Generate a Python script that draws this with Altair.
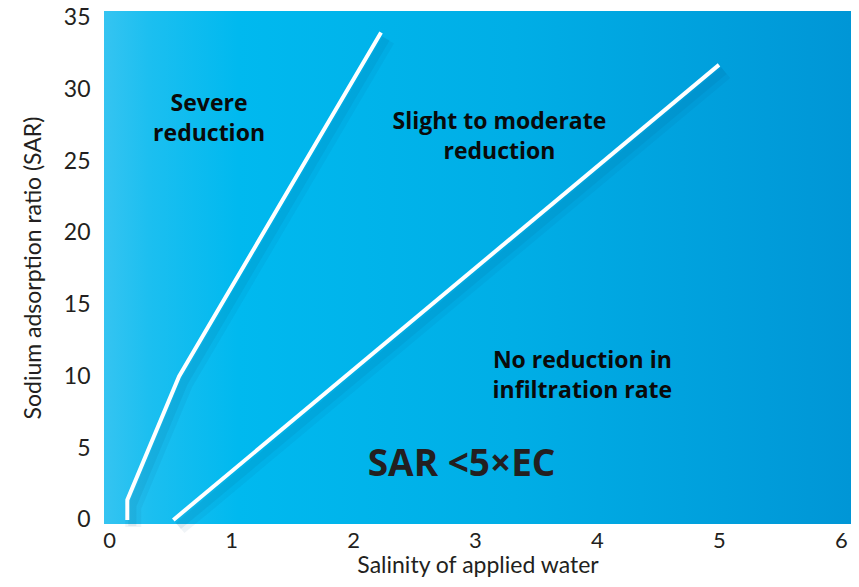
import altair as alt
import pandas as pd

# Boundary lines (EC of applied water, SAR)
severe_x = [0.15, 0.15, 0.574, 2.23]
severe_y = [0.0, 1.4, 10.0, 33.95]
slight_x = [0.527, 5.0]
slight_y = [0.0, 31.7]

# Region labels (y = first text line)
label_text = ["Severe\nreduction", "Slight to moderate\nreduction", "No reduction in\ninfiltration rate"]
label_x = [0.82, 3.20, 3.88]
label_y = [29.0, 27.7, 11.1]

formula_text = ["SAR <5×EC"]
formula_x = [2.89]
formula_y = [3.8]

x_ticks = [0, 1, 2, 3, 4, 5, 6]
y_ticks = [0, 5, 10, 15, 20, 25, 30, 35]

W, H = 747, 513
xs = alt.Scale(domain=[-0.041, 6.082], nice=False, zero=False)
ys = alt.Scale(domain=[-0.28, 35.45], nice=False, zero=False)

lines = pd.DataFrame(
    {"x": severe_x + slight_x,
     "y": severe_y + slight_y,
     "line": ["severe"] * len(severe_x) + ["slight"] * len(slight_x),
     "order": list(range(len(severe_x))) + list(range(len(slight_x)))}
)
labels = pd.DataFrame({"t": label_text, "x": label_x, "y": label_y})
formula = pd.DataFrame({"t": formula_text, "x": formula_x, "y": formula_y})

gradient = alt.Gradient(
    gradient="linear", x1=0, x2=1, y1=0, y2=0,
    stops=[alt.GradientStop(color="#35c4f1", offset=0),
           alt.GradientStop(color="#1cbff0", offset=0.06),
           alt.GradientStop(color="#00b9ef", offset=0.18),
           alt.GradientStop(color="#00aee6", offset=0.55),
           alt.GradientStop(color="#0096d6", offset=1)],
)

bg = alt.Chart(pd.DataFrame({"a": [0]})).mark_rect(color=gradient).encode(
    x=alt.value(0), x2=alt.value(W), y=alt.value(0), y2=alt.value(H)
)

FONT = "Lato"
xaxis = alt.Axis(values=x_ticks, format="d", title="Salinity of applied water", grid=False,
                 domain=False, ticks=False, labelPadding=6, titlePadding=3, labelFontSize=22,
                 titleFontSize=23, labelFont=FONT, titleFont=FONT, labelColor="#231f20",
                 titleColor="#231f20", titleFontWeight="normal", labelFlush=False)
yaxis = alt.Axis(values=y_ticks, format="d", title="Sodium adsorption ratio (SAR)", grid=False,
                 domain=False, ticks=False, labelPadding=14, titlePadding=18, labelFontSize=23,
                 titleFontSize=23, labelFont=FONT, titleFont=FONT, labelColor="#231f20",
                 titleColor="#231f20", titleFontWeight="normal", labelFlush=False)

enc = dict(
    x=alt.X("x:Q", scale=xs, axis=xaxis),
    y=alt.Y("y:Q", scale=ys, axis=yaxis),
    detail="line:N", order="order:Q",
)

shadow1 = alt.Chart(lines).mark_line(
    color="#004a75", strokeWidth=16, opacity=0.06, xOffset=6, yOffset=7
).encode(**enc)
shadow2 = alt.Chart(lines).mark_line(
    color="#004a75", strokeWidth=8, opacity=0.08, xOffset=5, yOffset=6
).encode(**enc)

line = alt.Chart(lines).mark_line(color="white", strokeWidth=4).encode(**enc)

txt = alt.Chart(labels).mark_text(
    font="Open Sans", fontSize=23, fontWeight="bold", color="#0a0a0a",
    align="center", baseline="middle", lineBreak="\n", lineHeight=30
).encode(x=alt.X("x:Q", scale=xs), y=alt.Y("y:Q", scale=ys), text="t:N")

ftxt = alt.Chart(formula).mark_text(
    font="Open Sans", fontSize=37, fontWeight="bold", color="#231f20",
    align="center", baseline="middle"
).encode(x=alt.X("x:Q", scale=xs), y=alt.Y("y:Q", scale=ys), text="t:N")

chart = alt.layer(bg, shadow1, shadow2, line, txt, ftxt).properties(
    width=W, height=H,
    autosize=alt.AutoSizeParams(type="none"),
    padding={"left": 96, "top": 3, "right": 0, "bottom": 55},
).configure_view(stroke=None)

chart.save("out.html", embed_options={"renderer": "svg", "actions": False})
